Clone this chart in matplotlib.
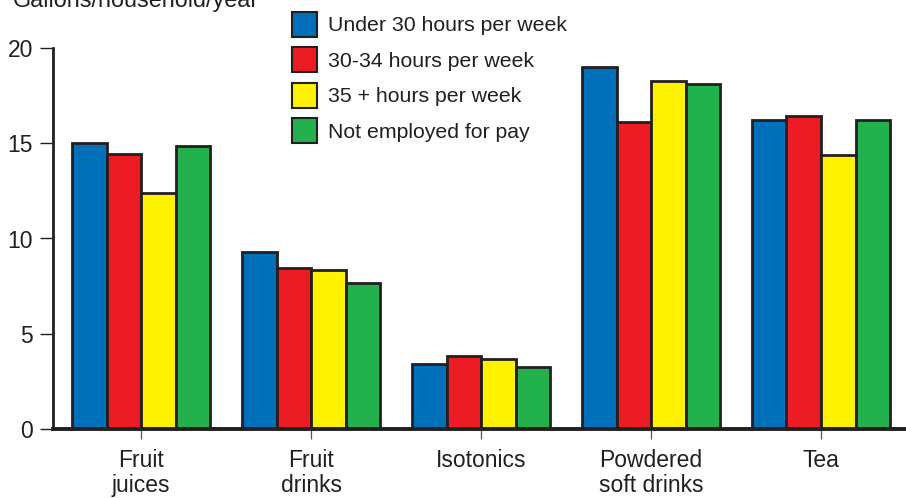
import numpy as np
import matplotlib.pyplot as plt
from matplotlib.patches import Patch

plt.rcParams['font.family'] = ['Liberation Sans', 'DejaVu Sans']

categories = ['Fruit\njuices', 'Fruit\ndrinks', 'Isotonics', 'Powdered\nsoft drinks', 'Tea']
series = ['Under 30 hours per week', '30-34 hours per week',
          '35 + hours per week', 'Not employed for pay']
under_30 = [15.0, 9.3, 3.4, 19.0, 16.2]
hours_30_34 = [14.45, 8.45, 3.85, 16.1, 16.4]
hours_35_plus = [12.4, 8.35, 3.7, 18.25, 14.4]
not_employed = [14.85, 7.65, 3.27, 18.1, 16.2]
colors = ['#0070ba', '#ed1c24', '#fff200', '#22b14c']
ink = '#231f20'

values = [under_30, hours_30_34, hours_35_plus, not_employed]

fig = plt.figure(figsize=(9.06, 4.98), dpi=100)
ax = fig.add_axes([53 / 906, 1 - 429.3 / 498, 1 - 53 / 906, 381.6 / 498])

x = np.arange(len(categories))
w = 0.203
for i, (vals, c) in enumerate(zip(values, colors)):
    ax.bar(x + (i - 1.5) * w, vals, width=w, color=c, edgecolor=ink,
           linewidth=2.0, zorder=2)

ax.set_xlim(-0.518, 4.5)
ax.set_ylim(0, 20)
ax.set_yticks([0, 5, 10, 15, 20])
ax.set_xticks(x)
ax.set_xticklabels(categories, fontsize=16.5, color=ink, linespacing=1.12)
ax.tick_params(axis='y', length=9.5, width=1.0, color=ink, pad=5,
               labelsize=16.5, labelcolor=ink)
ax.tick_params(axis='x', length=7.5, width=0.9, color='#555555', pad=6.5)

for side in ['top', 'right']:
    ax.spines[side].set_visible(False)
ax.spines['left'].set_linewidth(2.0)
ax.spines['left'].set_color(ink)
ax.spines['bottom'].set_linewidth(2.8)
ax.spines['bottom'].set_color(ink)
ax.spines['bottom'].set_zorder(3)

fig.text(13 / 906, 1 - 7 / 498, 'Gallons/household/year', fontsize=16.8,
         color=ink, va='baseline', ha='left')

handles = [Patch(facecolor=c, edgecolor=ink, linewidth=1.5) for c in colors]
fig.legend(handles, series, loc='upper left',
           bbox_to_anchor=(291.7 / 906, 1 - 11.7 / 498),
           frameon=False, fontsize=15.3, handlelength=1.18, handleheight=1.43,
           handletextpad=0.55, labelspacing=0.5, borderpad=0, borderaxespad=0,
           labelcolor=ink)

fig.savefig('out.png', dpi=100)
